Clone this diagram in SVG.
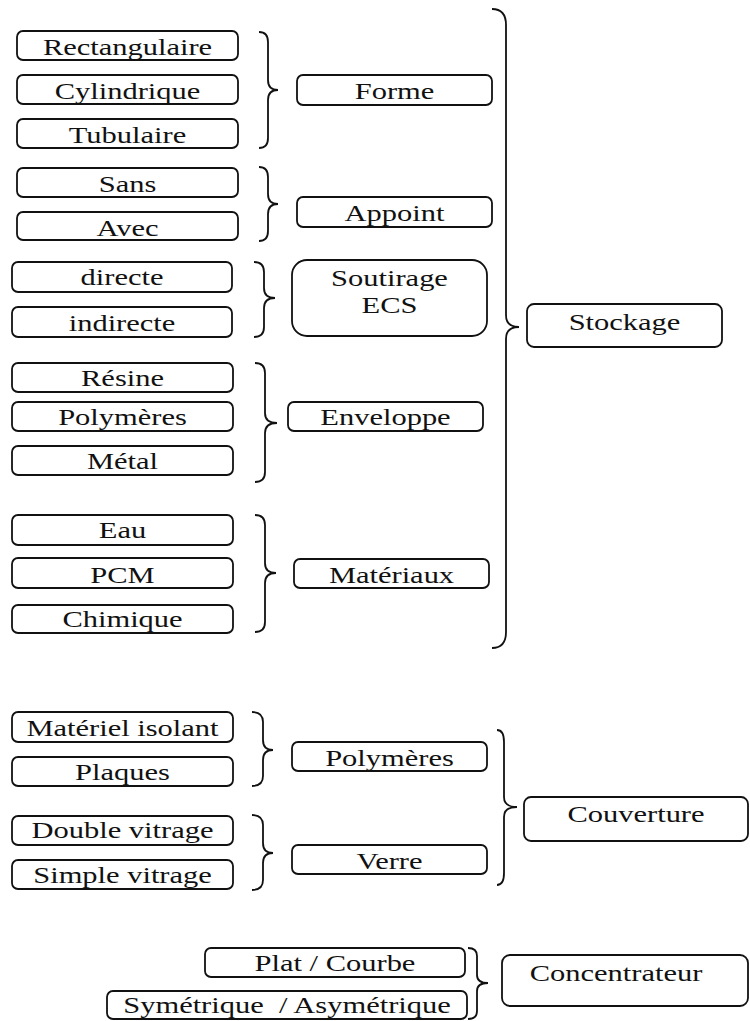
<svg xmlns="http://www.w3.org/2000/svg" width="750" height="1021" viewBox="0 0 750 1021">
<style>
.b{fill:#fff;stroke:#111;stroke-width:1.8}
.t{font-family:"Liberation Serif","Times New Roman",serif;font-size:24px;text-anchor:middle;fill:#111}
.br{fill:none;stroke:#111;stroke-width:1.8}
</style>
<rect width="750" height="1021" fill="#fff"/>
<g id="connectors">
<path class="br" d="M259,32 Q268,32 268,42 L268,80 Q268,90 278,90 Q268,90 268,100 L268,138 Q268,148 259,148"/>
<path class="br" d="M259,167 Q268,167 268,177 L268,194 Q268,204 278,204 Q268,204 268,214 L268,231 Q268,241 259,241"/>
<path class="br" d="M254,262 Q264,262 264,272 L264,288 Q264,298 275,298 Q264,298 264,308 L264,327 Q264,337 254,337"/>
<path class="br" d="M255,363 Q265,363 265,373 L265,413 Q265,423 277,423 Q265,423 265,433 L265,472 Q265,482 255,482"/>
<path class="br" d="M255,515 Q265,515 265,525 L265,563 Q265,573 276,573 Q265,573 265,583 L265,622 Q265,632 255,632"/>
<path class="br" d="M492,9 Q506,9 506,25 L506,315 Q506,327 519,327 Q506,327 506,339 L506,632 Q506,648 492,648"/>
<path class="br" d="M252,712 Q263,712 263,722 L263,740 Q263,750 273,750 Q263,750 263,760 L263,776 Q263,786 252,786"/>
<path class="br" d="M252,815 Q263,815 263,825 L263,843 Q263,853 273,853 Q263,853 263,863 L263,880 Q263,890 252,890"/>
<path class="br" d="M497,730 Q504,730 504,742 L504,797 Q504,807 517,807 Q504,807 504,817 L504,873 Q504,885 497,885"/>
<path class="br" d="M468,948 Q477,948 477,956 L477,975 Q477,983 488,983 Q477,983 477,991 L477,1011 Q477,1019 468,1019"/>
</g>
<g id="n-rectangulaire"><rect class="b" x="17" y="31" width="221" height="29" rx="6"/><text class="t" transform="translate(127.5,55) scale(1.27,1)">Rectangulaire</text></g>
<g id="n-cylindrique"><rect class="b" x="17" y="75" width="221" height="29" rx="6"/><text class="t" transform="translate(127.5,99) scale(1.27,1)">Cylindrique</text></g>
<g id="n-tubulaire"><rect class="b" x="17" y="119" width="221" height="29" rx="6"/><text class="t" transform="translate(127.5,143) scale(1.27,1)">Tubulaire</text></g>
<g id="n-sans"><rect class="b" x="17" y="168" width="221" height="29" rx="6"/><text class="t" transform="translate(127.5,192) scale(1.27,1)">Sans</text></g>
<g id="n-avec"><rect class="b" x="17" y="212" width="221" height="28" rx="6"/><text class="t" transform="translate(127.5,236) scale(1.27,1)">Avec</text></g>
<g id="n-forme"><rect class="b" x="297" y="75" width="195" height="30" rx="6"/><text class="t" transform="translate(394.5,99) scale(1.27,1)">Forme</text></g>
<g id="n-appoint"><rect class="b" x="297" y="197" width="195" height="30" rx="6"/><text class="t" transform="translate(394.5,221) scale(1.27,1)">Appoint</text></g>
<g id="n-soutirage"><rect class="b" x="292" y="260" width="195" height="76" rx="15"/><text class="t" transform="translate(389.5,286) scale(1.27,1)">Soutirage</text><text class="t" transform="translate(389.5,313) scale(1.27,1)">ECS</text></g>
<g id="n-stockage"><rect class="b" x="527" y="304" width="195" height="43" rx="7"/><text class="t" transform="translate(624.5,330) scale(1.27,1)">Stockage</text></g>
<g id="n-directe"><rect class="b" x="12" y="262" width="220" height="30" rx="6"/><text class="t" transform="translate(122,285) scale(1.27,1)">directe</text></g>
<g id="n-indirecte"><rect class="b" x="12" y="307" width="220" height="30" rx="6"/><text class="t" transform="translate(122,331) scale(1.27,1)">indirecte</text></g>
<g id="n-resine"><rect class="b" x="12" y="363" width="221" height="29" rx="6"/><text class="t" transform="translate(122.5,386) scale(1.27,1)">Résine</text></g>
<g id="n-polymeres1"><rect class="b" x="12" y="402" width="221" height="29" rx="6"/><text class="t" transform="translate(122.5,425) scale(1.27,1)">Polymères</text></g>
<g id="n-metal"><rect class="b" x="12" y="446" width="221" height="29" rx="6"/><text class="t" transform="translate(122.5,469) scale(1.27,1)">Métal</text></g>
<g id="n-enveloppe"><rect class="b" x="288" y="402" width="195" height="29" rx="6"/><text class="t" transform="translate(385.5,425) scale(1.27,1)">Enveloppe</text></g>
<g id="n-eau"><rect class="b" x="12" y="515" width="221" height="30" rx="6"/><text class="t" transform="translate(122.5,538) scale(1.27,1)">Eau</text></g>
<g id="n-pcm"><rect class="b" x="12" y="558" width="221" height="30" rx="6"/><text class="t" transform="translate(122.5,583) scale(1.27,1)">PCM</text></g>
<g id="n-chimique"><rect class="b" x="12" y="605" width="221" height="28" rx="6"/><text class="t" transform="translate(122.5,627) scale(1.27,1)">Chimique</text></g>
<g id="n-materiaux"><rect class="b" x="294" y="559" width="195" height="29" rx="6"/><text class="t" transform="translate(391.5,583) scale(1.27,1)">Matériaux</text></g>
<g id="n-materiel-isolant"><rect class="b" x="12" y="712" width="221" height="30" rx="6"/><text class="t" transform="translate(122.5,736) scale(1.27,1)">Matériel isolant</text></g>
<g id="n-plaques"><rect class="b" x="12" y="757" width="221" height="29" rx="6"/><text class="t" transform="translate(122.5,780) scale(1.27,1)">Plaques</text></g>
<g id="n-polymeres2"><rect class="b" x="292" y="742" width="195" height="29" rx="6"/><text class="t" transform="translate(389.5,766) scale(1.27,1)">Polymères</text></g>
<g id="n-double-vitrage"><rect class="b" x="12" y="816" width="221" height="29" rx="6"/><text class="t" transform="translate(122.5,838) scale(1.27,1)">Double vitrage</text></g>
<g id="n-simple-vitrage"><rect class="b" x="12" y="860" width="221" height="29" rx="6"/><text class="t" transform="translate(122.5,883) scale(1.27,1)">Simple vitrage</text></g>
<g id="n-verre"><rect class="b" x="292" y="845" width="195" height="29" rx="6"/><text class="t" transform="translate(389.5,869) scale(1.27,1)">Verre</text></g>
<g id="n-couverture"><rect class="b" x="524" y="797" width="224" height="44" rx="7"/><text class="t" transform="translate(636,822) scale(1.27,1)">Couverture</text></g>
<g id="n-plat-courbe"><rect class="b" x="205" y="948" width="260" height="29" rx="6"/><text class="t" transform="translate(335,971) scale(1.27,1)">Plat / Courbe</text></g>
<g id="n-symetrique"><rect class="b" x="107" y="991" width="360" height="28" rx="6"/><text class="t" transform="translate(287,1013) scale(1.27,1)" xml:space="preserve">Symétrique  / Asymétrique</text></g>
<g id="n-concentrateur"><rect class="b" x="502" y="955" width="246" height="51" rx="8"/><text class="t" transform="translate(616,981) scale(1.27,1)">Concentrateur</text></g>
</svg>
